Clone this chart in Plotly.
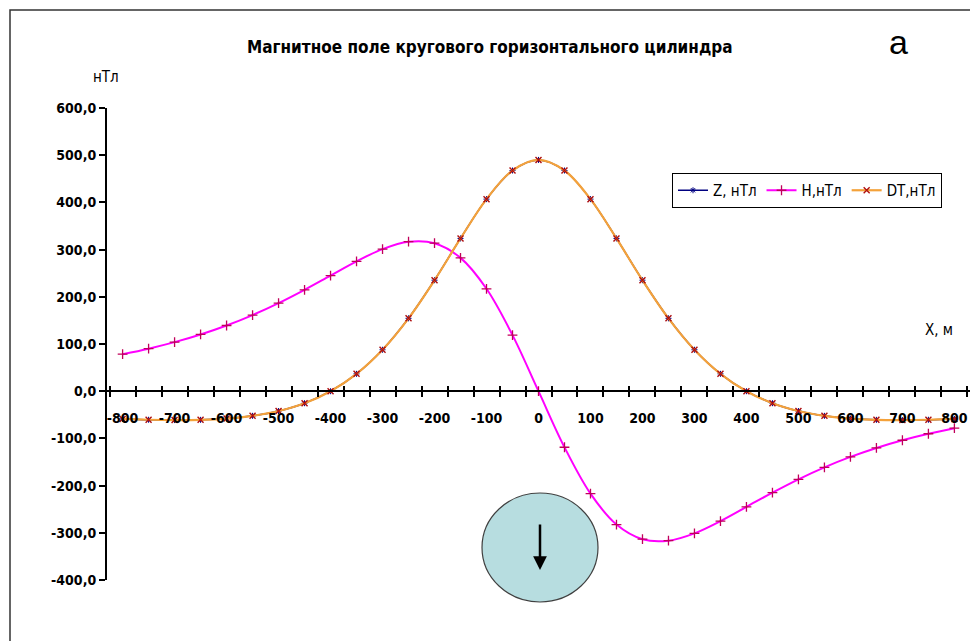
import plotly.graph_objects as go

# Profile positions, m
x_m = [-800, -750, -700, -650, -600, -550, -500, -450, -400, -350, -300, -250, -200,
       -150, -100, -50, 0, 50, 100, 150, 200, 250, 300, 350, 400, 450, 500, 550,
       600, 650, 700, 750, 800]

# Vertical component Z, nT
z_nt = [-58.8, -60.5, -61.2, -60.7, -58.0, -52.2, -42.0, -25.4, 0.0, 36.8, 87.8, 154.4,
        235.2, 323.7, 406.9, 467.6, 490.0, 467.6, 406.9, 323.7, 235.2, 154.4, 87.8, 36.8,
        0.0, -25.4, -42.0, -52.2, -58.0, -60.7, -61.2, -60.5, -58.8]

# Horizontal component H, nT
h_nt = [78.4, 90.1, 103.9, 120.2, 139.2, 161.3, 186.6, 214.8, 245.0, 275.1, 301.1, 316.7,
        313.6, 282.5, 217.0, 118.8, 0.0, -118.8, -217.0, -282.5, -313.6, -316.7, -301.1,
        -275.1, -245.0, -214.8, -186.6, -161.3, -139.2, -120.2, -103.9, -90.1, -78.4]

# Total field anomaly DT, nT
dt_nt = [-58.8, -60.5, -61.2, -60.7, -58.0, -52.2, -42.0, -25.4, 0.0, 36.8, 87.8, 154.4,
         235.2, 323.7, 406.9, 467.6, 490.0, 467.6, 406.9, 323.7, 235.2, 154.4, 87.8, 36.8,
         0.0, -25.4, -42.0, -52.2, -58.0, -60.7, -61.2, -60.5, -58.8]

x_tick_vals = [-800, -700, -600, -500, -400, -300, -200, -100, 0, 100, 200, 300, 400, 500, 600, 700, 800]
x_tick_text = ["-800", "-700", "-600", "-500", "-400", "-300", "-200", "-100", "0",
               "100", "200", "300", "400", "500", "600", "700", "800"]
x_bounds = [-825 + 50 * i for i in range(34)]

y_tick_vals = [-400, -300, -200, -100, 0, 100, 200, 300, 400, 500, 600]
y_tick_text = ["-400,0", "-300,0", "-200,0", "-100,0", "0,0", "100,0", "200,0",
               "300,0", "400,0", "500,0", "600,0"]

NARROW = "Liberation Sans Narrow, DejaVu Sans Condensed, Arial Narrow, sans-serif"
W, H = 970, 641
L, R, T, B = 107, 0, 108, 61
PW, PH = W - L - R, H - T - B


def px(xp):
    return (xp - L) / PW


def py(yp):
    return (H - B - yp) / PH


fig = go.Figure()

fig.add_trace(go.Scatter(
    x=x_m, y=z_nt, name="Z, нТл", mode="lines+markers",
    line=dict(color="#000080", width=1.5, shape="spline"),
    marker=dict(symbol="asterisk-open", size=5, color="#000080", line=dict(width=1, color="#000080")),
))
fig.add_trace(go.Scatter(
    x=x_m, y=h_nt, name="H,нТл", mode="lines+markers",
    line=dict(color="#FF00FF", width=2, shape="spline"),
    marker=dict(symbol="cross-thin-open", size=7, color="#C0005A", line=dict(width=1.3, color="#C0005A")),
))
fig.add_trace(go.Scatter(
    x=x_m, y=dt_nt, name="DT,нТл", mode="lines+markers",
    line=dict(color="#F4A23A", width=2.2, shape="spline"),
    marker=dict(symbol="x-thin-open", size=6, color="#B01010", line=dict(width=1.4, color="#B01010")),
))
# helper trace so the overlay tick axis is drawn
fig.add_trace(go.Scatter(x=[None], y=[None], xaxis="x2", showlegend=False, hoverinfo="skip"))

x_range = [-830, 830]
zero_pos = (0 - (-400)) / (600 - (-400))

fig.update_layout(
    width=W, height=H,
    margin=dict(l=L, r=R, t=T, b=B),
    paper_bgcolor="white", plot_bgcolor="white",
    font=dict(family=NARROW, color="black"),
    xaxis=dict(
        range=x_range, anchor="free", position=zero_pos,
        showgrid=False, zeroline=False,
        showline=True, linecolor="black", linewidth=2,
        tickmode="array", tickvals=x_tick_vals, ticktext=x_tick_text,
        ticks="outside", ticklen=14, tickcolor="rgba(0,0,0,0)",
        tickfont=dict(family=NARROW, size=14, color="black", weight="bold"),
        minor=dict(tickmode="array", tickvals=x_bounds, ticks="outside", ticklen=5,
                   tickcolor="black", tickwidth=1.5, showgrid=False),
    ),
    xaxis2=dict(
        range=x_range, overlaying="x", anchor="free", position=zero_pos,
        showgrid=False, zeroline=False, showline=False, showticklabels=False,
        tickmode="array", tickvals=x_bounds, ticks="inside", ticklen=5,
        tickcolor="black", tickwidth=1.5,
    ),
    yaxis=dict(
        range=[-400, 600], showgrid=False, zeroline=False,
        showline=True, linecolor="black", linewidth=2,
        tickmode="array", tickvals=y_tick_vals, ticktext=y_tick_text,
        ticks="outside", ticklen=6, tickwidth=2, tickcolor="black",
        tickfont=dict(family=NARROW, size=14, color="black", weight="bold"),
    ),
    legend=dict(
        orientation="h", x=px(672), y=py(173), xanchor="left", yanchor="top",
        bgcolor="white", bordercolor="black", borderwidth=1,
        font=dict(family=NARROW, size=15, color="black"),
        itemwidth=30, tracegroupgap=0,
    ),
    showlegend=True,
)

# outer frame of the chart
fig.add_shape(type="rect", xref="paper", yref="paper",
              x0=px(10), x1=px(975), y0=py(650), y1=py(10),
              line=dict(color="#333333", width=1.5), fillcolor="rgba(0,0,0,0)", layer="below")

# cylinder cross-section with magnetisation arrow
fig.add_shape(type="circle", xref="paper", yref="paper",
              x0=px(482), x1=px(598), y0=py(602), y1=py(493),
              line=dict(color="#404040", width=1.2), fillcolor="#B7DDE0")
fig.add_annotation(xref="paper", yref="paper", x=px(540), y=py(570),
                   ax=0, ay=-47, showarrow=True, arrowhead=2, arrowsize=1.1,
                   arrowwidth=2.5, arrowcolor="black", text="")

labels = [
    ("<b>Магнитное поле кругового горизонтального цилиндра</b>", 490, 47, NARROW, 17),
    ("а", 898, 42, "Liberation Sans, Arial, sans-serif", 34),
    ("нТл", 106, 77, NARROW, 15),
    ("X, м", 939, 330, NARROW, 15),
]
for text, xp, yp, fam, size in labels:
    fig.add_annotation(xref="paper", yref="paper", x=px(xp), y=py(yp),
                       xanchor="center", yanchor="middle", text=text, showarrow=False,
                       font=dict(family=fam, size=size, color="black"))

fig.write_html("out.html")
